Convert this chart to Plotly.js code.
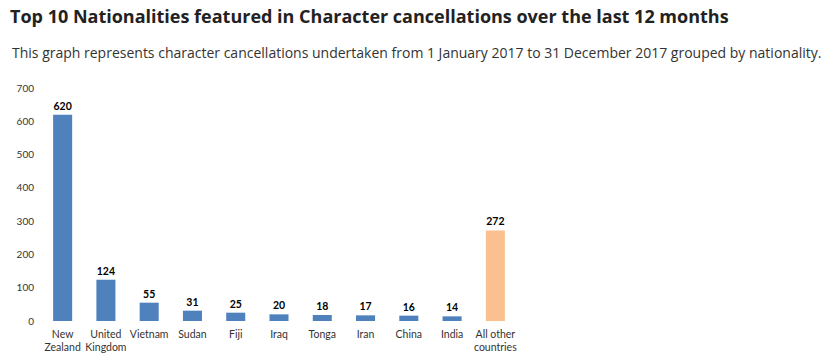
<!DOCTYPE html>
<html>
<head>
<meta charset="utf-8">
<script src="https://cdn.plot.ly/plotly-3.0.1.min.js"></script>
<style>html,body{margin:0;padding:0;background:#fff;}#chart{width:837px;height:364px;}</style>
</head>
<body>
<div id="chart"></div>
<script>
const categories = ["New<br>Zealand", "United<br>Kingdom", "Vietnam", "Sudan", "Fiji", "Iraq", "Tonga", "Iran", "China", "India", "All other<br>countries"];
const values = [620, 124, 55, 31, 25, 20, 18, 17, 16, 14, 272];
const barColors = ["#4F81BD", "#4F81BD", "#4F81BD", "#4F81BD", "#4F81BD", "#4F81BD", "#4F81BD", "#4F81BD", "#4F81BD", "#4F81BD", "#FAC090"];
const yTicks = [0, 100, 200, 300, 400, 500, 600, 700];

const trace = {
  type: "bar",
  x: categories,
  y: values,
  marker: {color: barColors},
  text: values.map(String),
  textposition: "outside",
  cliponaxis: false,
  textfont: {family: "Lato, 'Open Sans', sans-serif", size: 10.5, color: "#000", weight: "bold"},
  hoverinfo: "x+y"
};

const layout = {
  width: 837,
  height: 364,
  margin: {l: 41, r: 320, t: 88, b: 43},
  paper_bgcolor: "#fff",
  plot_bgcolor: "#fff",
  showlegend: false,
  bargap: 0.56,
  title: {
    text: "<b>Top 10 Nationalities featured in Character cancellations over the last 12 months</b>",
    xref: "container", yref: "container",
    x: 10/837, xanchor: "left",
    y: 1 - 17/364, yanchor: "middle",
    font: {family: "'Open Sans', sans-serif", size: 18, color: "#222"}
  },
  annotations: [{
    text: "This graph represents character cancellations undertaken from 1 January 2017 to 31 December 2017 grouped by nationality.",
    xref: "paper", yref: "paper",
    x: 0, xshift: -31, xanchor: "left",
    y: 1, yshift: 36, yanchor: "middle",
    showarrow: false,
    font: {family: "'Open Sans', sans-serif", size: 14, color: "#333"}
  }],
  xaxis: {
    type: "category",
    showline: false,
    showgrid: false,
    ticks: "",
    ticklabelstandoff: 5,
    tickfont: {family: "Lato, 'Open Sans', sans-serif", size: 10.5, color: "#333"},
    fixedrange: true
  },
  yaxis: {
    range: [0, 700],
    tickvals: yTicks,
    ticktext: yTicks.map(String),
    showgrid: false,
    zeroline: false,
    showline: false,
    ticks: "",
    ticklabelstandoff: 6,
    tickfont: {family: "Lato, 'Open Sans', sans-serif", size: 10, color: "#333"},
    fixedrange: true
  }
};

Plotly.newPlot("chart", [trace], layout, {displayModeBar: false, staticPlot: true});
</script>
</body>
</html>
